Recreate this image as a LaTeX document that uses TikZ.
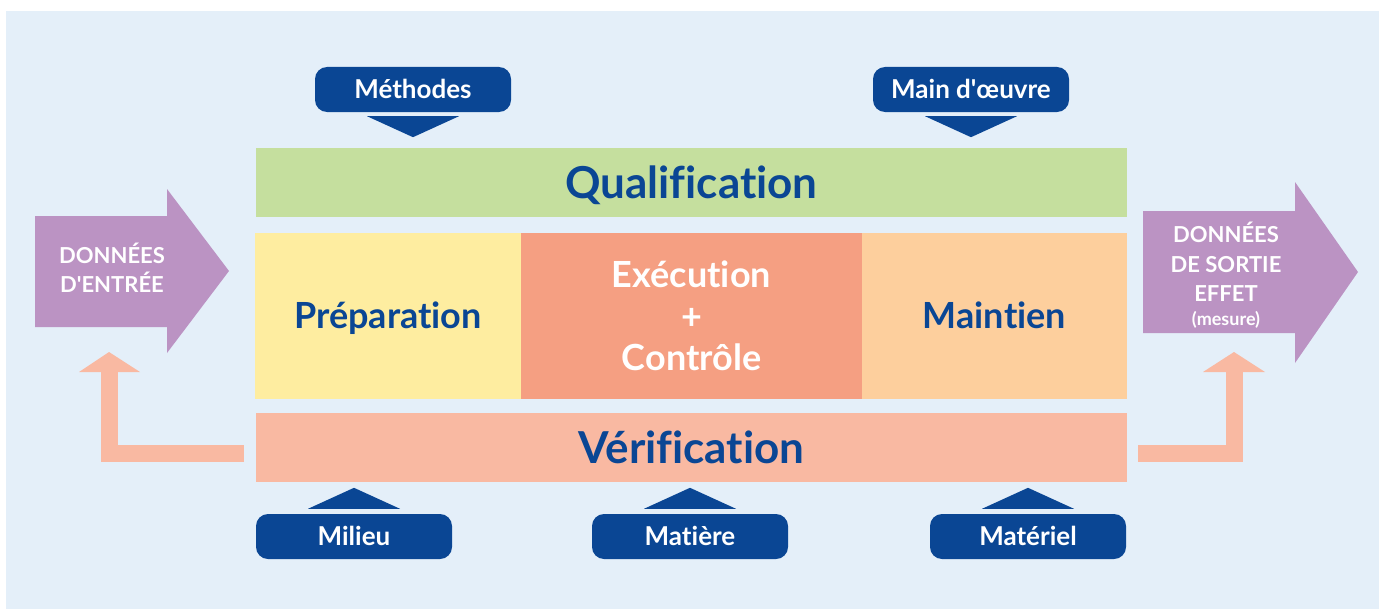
\documentclass[tikz,border=0pt]{standalone}
\usepackage{fontspec}
\setmainfont{Lato}[Ligatures={TeX,NoCommon}]
\usepackage{xcolor}
\usetikzlibrary{positioning,calc}

\definecolor{bgblue}{HTML}{E4EFF9}
\definecolor{qualgreen}{HTML}{C5DF9E}
\definecolor{prepyellow}{HTML}{FEEDA0}
\definecolor{execsalmon}{HTML}{F59F82}
\definecolor{maintorange}{HTML}{FDCF9D}
\definecolor{verifpink}{HTML}{F9B9A2}
\definecolor{navy}{HTML}{0A4694}
\definecolor{arrowpurple}{HTML}{BB93C3}

\begin{document}
\begin{tikzpicture}[
    x=1pt, y=-1pt,
    bar/.style={rectangle, inner sep=0pt, outer sep=0pt, minimum width=871pt, minimum height=69pt, text=navy, text height=31pt, text depth=0pt, font=\fontsize{44}{50}\selectfont\bfseries},
    block/.style={rectangle, inner sep=0pt, outer sep=0pt, minimum height=166pt, align=center, font=\fontsize{36}{41.5}\selectfont\bfseries},
    tag/.style={rectangle, rounded corners=12pt, fill=navy, text=white, inner sep=0pt, minimum width=196pt, minimum height=45pt, text height=18.6pt, text depth=0pt, font=\fontsize{26}{30}\selectfont\bfseries},
    tri/.style={fill=navy},
    bigarrow/.style={fill=arrowpurple},
    bigtext/.style={align=center, text=white, inner sep=0pt, font=\fontsize{22}{29.5}\selectfont\bfseries},
    fbline/.style={draw=verifpink, line width=17pt},
    fbhead/.style={fill=verifpink}
]

% Background
\useasboundingbox (0,0) rectangle (1387,610);
\fill[bgblue] (6,11) rectangle (1379,609);

% Middle row
\node[block, fill=prepyellow, text=navy, minimum width=266pt, text height=25.8pt, text depth=0pt] (prep) at (388,316) {Préparation};
\node[block, fill=execsalmon, text=white, minimum width=341pt, right=0pt of prep] (exec) {Exécution\\+\\Contrôle};
\node[block, fill=maintorange, text=navy, minimum width=265pt, text height=25.8pt, text depth=0pt, right=0pt of exec] (maint) {Maintien};

% Top and bottom bars
\node[bar, fill=qualgreen, above=16pt of exec] (qual) {Qualification};
\node[bar, fill=verifpink, below=14pt of exec] (verif) {Vérification};

% Tags
\node[tag] (meth) at (413,89.5) {Méthodes};
\node[tag] (mdo) at (971,89.5) {Main d\textquotesingle œuvre};
\node[tag] (mil) at (354,536.5) {Milieu};
\node[tag] (mat) at (690,536.5) {Matière};
\node[tag] (matl) at (1028,536.5) {Matériel};

% Tag pointers
\fill[tri] ([shift={(-46,4)}]meth.south) -- ([shift={(46,4)}]meth.south) -- ([shift={(0,25)}]meth.south) -- cycle;
\fill[tri] ([shift={(-46,4)}]mdo.south) -- ([shift={(46,4)}]mdo.south) -- ([shift={(0,25)}]mdo.south) -- cycle;
\fill[tri] ([shift={(-46,-5)}]mil.north) -- ([shift={(46,-5)}]mil.north) -- ([shift={(0,-26)}]mil.north) -- cycle;
\fill[tri] ([shift={(-46,-5)}]mat.north) -- ([shift={(46,-5)}]mat.north) -- ([shift={(0,-26)}]mat.north) -- cycle;
\fill[tri] ([shift={(-46,-5)}]matl.north) -- ([shift={(46,-5)}]matl.north) -- ([shift={(0,-26)}]matl.north) -- cycle;

% Input and output arrows
\fill[bigarrow] (35,216) -- (167,216) -- (167,189) -- (229,271) -- (167,353) -- (167,327) -- (35,327) -- cycle;
\node[bigtext] (input) at (112,268) {DONNÉES\\D\textquotesingle ENTRÉE};
\fill[bigarrow] (1143,211) -- (1295,211) -- (1295,182) -- (1358,272) -- (1295,363) -- (1295,333) -- (1143,333) -- cycle;
\node[bigtext] (output) at (1226,275) {DONNÉES\\DE SORTIE\\EFFET\\[-6pt]{\fontsize{18}{20}\selectfont(mesure)}};

% Feedback arrows
\coordinate (fbL) at ([shift={(-12,6)}]verif.west);
\coordinate (fbLend) at (109,372);
\draw[fbline] (fbL) -| (fbLend);
\fill[fbhead] (79,372) -- (140,372) -- (109,352) -- cycle;
\coordinate (fbR) at ([shift={(11,6)}]verif.east);
\coordinate (fbRend) at (1234.5,372);
\draw[fbline] (fbR) -| (fbRend);
\fill[fbhead] (1203,372) -- (1265,372) -- (1234,352) -- cycle;

\end{tikzpicture}
\end{document}
